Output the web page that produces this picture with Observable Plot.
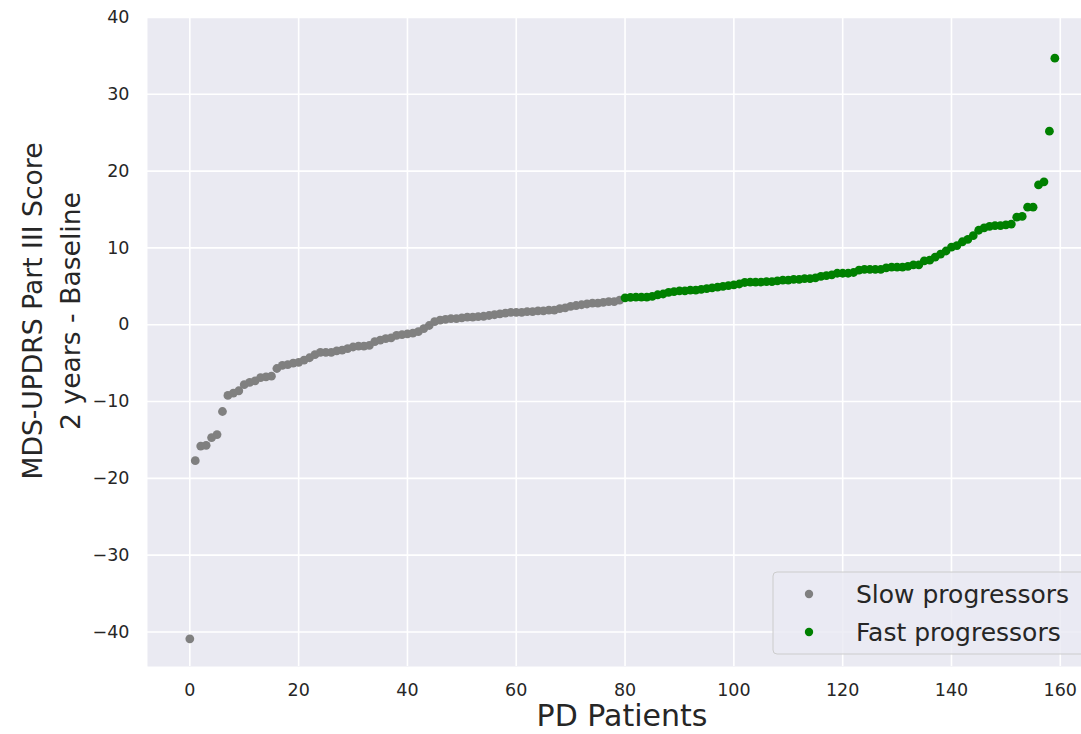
<!DOCTYPE html>
<html><head><meta charset="utf-8">
<script src="https://cdn.jsdelivr.net/npm/d3@7"></script>
<script src="https://cdn.jsdelivr.net/npm/@observablehq/plot@0.6"></script>
<style>body{margin:0;background:#fff;overflow:hidden} #chart{position:relative;width:1081px;height:734px}</style>
</head><body><div id="chart"></div>
<script>
const slowValues = [-40.9, -17.7, -15.8, -15.7, -14.7, -14.3, -11.3, -9.2, -8.9, -8.6,
  -7.8, -7.5, -7.3, -6.9, -6.8, -6.7, -5.7, -5.3, -5.2, -5.0,
  -4.9, -4.6, -4.3, -3.9, -3.6, -3.6, -3.6, -3.4, -3.3, -3.1,
  -2.9, -2.8, -2.8, -2.7, -2.2, -2.0, -1.8, -1.7, -1.4, -1.3,
  -1.2, -1.1, -0.9, -0.5, -0.1, 0.4, 0.6, 0.7, 0.8, 0.8,
  0.9, 1.0, 1.0, 1.05, 1.1, 1.2, 1.3, 1.4, 1.5, 1.6,
  1.6, 1.6, 1.7, 1.7, 1.8, 1.8, 1.9, 1.9, 2.1, 2.2,
  2.4, 2.5, 2.6, 2.7, 2.8, 2.8, 2.9, 3.0, 3.0, 3.2];
const fastValues = [3.5, 3.55, 3.6, 3.6, 3.6, 3.7, 3.9, 4.0, 4.2, 4.3,
  4.4, 4.4, 4.5, 4.5, 4.6, 4.7, 4.8, 4.9, 5.0, 5.1,
  5.2, 5.3, 5.5, 5.55, 5.55, 5.55, 5.6, 5.6, 5.7, 5.8,
  5.8, 5.9, 5.9, 6.0, 6.0, 6.1, 6.3, 6.4, 6.5, 6.7,
  6.7, 6.7, 6.8, 7.1, 7.2, 7.2, 7.2, 7.2, 7.4, 7.5,
  7.5, 7.5, 7.6, 7.8, 7.8, 8.3, 8.4, 8.8, 9.2, 9.6,
  10.1, 10.3, 10.8, 11.1, 11.6, 12.3, 12.6, 12.8, 12.9, 12.9,
  13.0, 13.1, 14.0, 14.1, 15.3, 15.3, 18.2, 18.6, 25.2, 34.7];
const groupNames = ["Slow progressors", "Fast progressors"];
const groupColors = ["#808080", "#008000"];
const xTicks = [0, 20, 40, 60, 80, 100, 120, 140, 160];
const yTicks = [-40, -30, -20, -10, 0, 10, 20, 30, 40];
const xLabel = "PD Patients";
const yLabelLines = ["MDS-UPDRS Part III Score", "2 years - Baseline"];

const points = [
  ...slowValues.map((v, i) => ({patient: i, score: v, group: groupNames[0]})),
  ...fastValues.map((v, i) => ({patient: slowValues.length + i, score: v, group: groupNames[1]}))
];

const textColor = "#262626";
const chart = Plot.plot({
  width: 1081, height: 734,
  marginLeft: 147, marginRight: 0, marginTop: 17, marginBottom: 68,
  style: {fontFamily: "DejaVu Sans", fontSize: "17.5px", color: textColor, background: "white", overflow: "hidden"},
  x: {domain: [-7.78, 163.9]},
  y: {domain: [-44.5, 40]},
  color: {domain: groupNames, range: groupColors},
  marks: [
    Plot.frame({fill: "#eaeaf2", stroke: null}),
    Plot.gridX(xTicks, {stroke: "white", strokeOpacity: 1, strokeWidth: 1.6}),
    Plot.gridY(yTicks, {stroke: "white", strokeOpacity: 1, strokeWidth: 1.6}),
    Plot.axisX(xTicks, {tickSize: 0, tickPadding: 17, label: null, fill: textColor}),
    Plot.axisY(yTicks, {tickSize: 0, tickPadding: 18, label: null, fill: textColor}),
    Plot.dot(points, {x: "patient", y: "score", fill: "group", r: 4.4, stroke: null})
  ]
});
document.getElementById("chart").appendChild(chart);

const svg = d3.select(chart);
svg.append("text")
  .attr("x", 622).attr("y", 726)
  .attr("text-anchor", "middle")
  .attr("font-family", "DejaVu Sans").attr("font-size", 30)
  .attr("fill", textColor)
  .text(xLabel);

const yl = svg.append("g").attr("transform", "translate(32,311) rotate(-90)");
yLabelLines.forEach((t, k) => {
  yl.append("text")
    .attr("x", 0).attr("y", k * 38)
    .attr("text-anchor", "middle").attr("dominant-baseline", "central")
    .attr("font-family", "DejaVu Sans").attr("font-size", 26.6)
    .attr("fill", textColor)
    .text(t);
});

const lg = svg.append("g");
lg.append("rect").attr("x", 773).attr("y", 572).attr("width", 330).attr("height", 82)
  .attr("rx", 4).attr("fill", "#eaeaf2").attr("fill-opacity", 0.8).attr("stroke", "#cccccc");
groupNames.forEach((name, k) => {
  const cy = 594 + k * 38;
  lg.append("circle").attr("cx", 809).attr("cy", cy).attr("r", 4.2).attr("fill", groupColors[k]);
  lg.append("text").attr("x", 856).attr("y", cy)
    .attr("text-anchor", "start").attr("dominant-baseline", "central")
    .attr("font-family", "DejaVu Sans").attr("font-size", 25)
    .attr("fill", textColor).text(name);
});
</script>
</body></html>
